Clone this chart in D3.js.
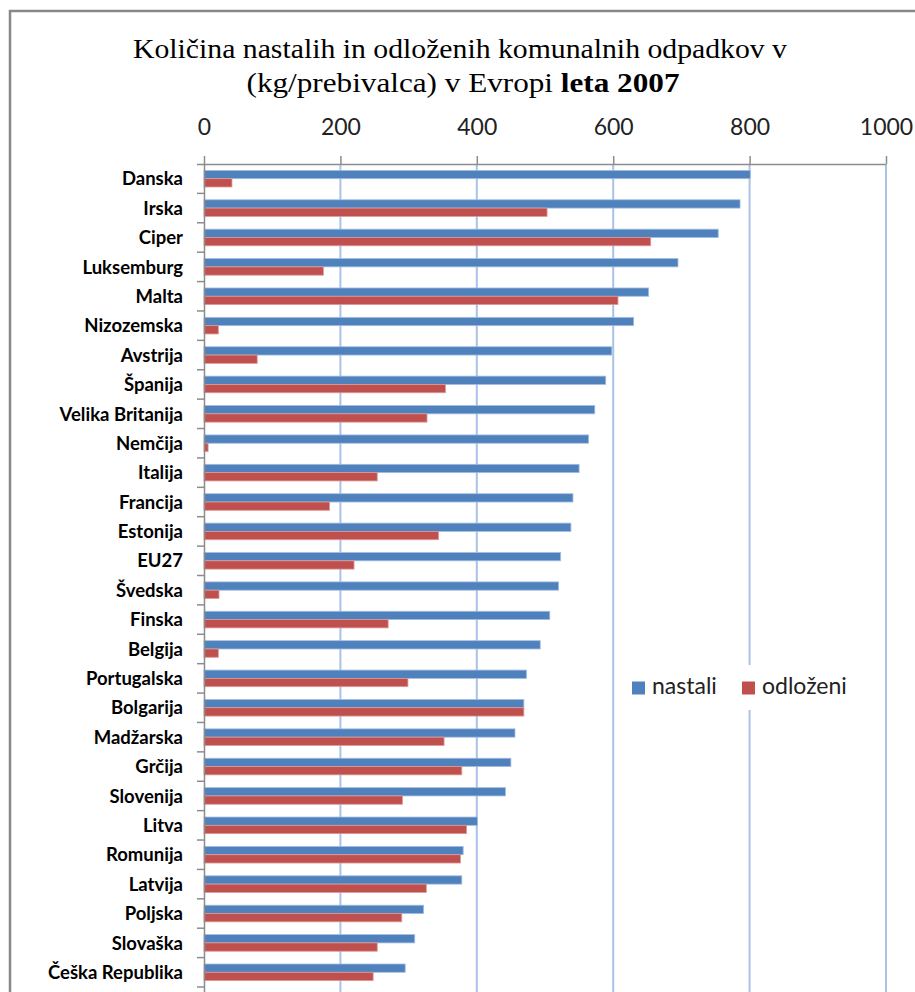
<!DOCTYPE html>
<html lang="sl">
<head>
  <meta charset="utf-8">
  <title>Komunalni odpadki v Evropi 2007</title>
  <script src="https://d3js.org/d3.v7.min.js"></script>
  <style>
    body { margin: 0; background: #fff; }
    .grid line { stroke: #a9c2ea; stroke-width: 2px; }
    .axis path, .axis line { stroke: #8c8c8c; stroke-width: 1.5px; }
    .x-axis text { font-family: Lato, "Open Sans", sans-serif; font-size: 23px; fill: #222; }
    .y-axis text { font-family: Lato, "Open Sans", sans-serif; font-weight: bold; font-size: 18.5px; fill: #000; }
    .legend text { font-family: Lato, "Open Sans", sans-serif; font-size: 23px; fill: #222; }
  </style>
</head>
<body>
  <svg width="915" height="992"></svg>
  <script>
    // data (kg per inhabitant)
    var countries = ["Danska", "Irska", "Ciper", "Luksemburg", "Malta", "Nizozemska", "Avstrija",
      "Španija", "Velika Britanija", "Nemčija", "Italija", "Francija", "Estonija", "EU27",
      "Švedska", "Finska", "Belgija", "Portugalska", "Bolgarija", "Madžarska", "Grčija",
      "Slovenija", "Litva", "Romunija", "Latvija", "Poljska", "Slovaška", "Češka Republika"];
    var nastali = [801, 786, 754, 695, 652, 630, 598, 589, 573, 564, 550, 541, 538, 523,
      520, 507, 493, 473, 469, 456, 450, 442, 401, 380, 378, 322, 309, 295];
    var odlozeni = [41, 503, 655, 175, 607, 21, 78, 354, 327, 6, 254, 184, 344, 220,
      22, 270, 21, 299, 469, 352, 378, 291, 385, 376, 326, 290, 254, 248];
    var xTicks = [0, 200, 400, 600, 800, 1000];
    var seriesNames = ["nastali", "odloženi"];
    var seriesColors = ["#4f81bd", "#c0504d"];
    var seriesStroke = ["#a4bde0", "#dc9997"];

    var svg = d3.select("svg");
    var plotLeft = 204, plotRight = 886, plotTop = 164, plotBottom = 987;

    var x = d3.scaleLinear().domain([0, 1000]).range([plotLeft, plotRight]);
    var y = d3.scaleBand().domain(countries).range([plotTop, plotBottom]);
    var ySub = d3.scaleBand().domain(seriesNames).range([0, y.bandwidth()]).paddingOuter(0.77);

    var rows = countries.map(function (c, i) {
      return { name: c, values: [nastali[i], odlozeni[i]] };
    });

    // chart frame
    svg.append("rect")
      .attr("x", 10).attr("y", 11)
      .attr("width", 1000).attr("height", 1000)
      .attr("fill", "#fff")
      .attr("stroke", "#888").attr("stroke-width", 2.5);

    // title
    var title = svg.append("g")
      .attr("font-family", "'Liberation Serif', 'Times New Roman', serif")
      .attr("font-size", 27)
      .attr("fill", "#000")
      .attr("text-anchor", "middle");
    title.append("text")
      .attr("x", 460).attr("y", 58)
      .attr("textLength", 654).attr("lengthAdjust", "spacingAndGlyphs")
      .text("Količina nastalih in odloženih komunalnih odpadkov v");
    var t2 = title.append("text")
      .attr("x", 463).attr("y", 92)
      .attr("textLength", 433).attr("lengthAdjust", "spacingAndGlyphs");
    t2.append("tspan").text("(kg/prebivalca) v Evropi ");
    t2.append("tspan").attr("font-weight", "bold").text("leta 2007");

    // vertical gridlines
    svg.append("g")
      .attr("class", "grid")
      .selectAll("line")
      .data(xTicks.filter(function (d) { return d > 0; }))
      .enter().append("line")
      .attr("x1", function (d) { return x(d); })
      .attr("x2", function (d) { return x(d); })
      .attr("y1", plotTop)
      .attr("y2", 992);

    // bars
    var groups = svg.append("g")
      .selectAll("g")
      .data(rows)
      .enter().append("g")
      .attr("transform", function (d) { return "translate(0," + y(d.name) + ")"; });

    groups.selectAll("rect")
      .data(function (d) { return d.values; })
      .enter().append("rect")
      .attr("x", x(0))
      .attr("y", function (d, i) { return ySub(seriesNames[i]); })
      .attr("width", function (d) { return x(d) - x(0); })
      .attr("height", ySub.bandwidth())
      .attr("fill", function (d, i) { return seriesColors[i]; })
      .attr("stroke", function (d, i) { return seriesStroke[i]; })
      .attr("stroke-width", 0.8);

    // top value axis
    var xAxis = svg.append("g")
      .attr("class", "axis x-axis")
      .attr("transform", "translate(0," + plotTop + ")")
      .call(d3.axisTop(x).tickValues(xTicks).tickFormat(d3.format("d"))
        .tickSize(8).tickPadding(21).tickSizeOuter(0));
    xAxis.select(".domain").attr("d", "M" + (plotLeft - 7) + ",0.5H" + plotRight);

    // category axis: line, ticks between categories, labels
    var yAxis = svg.append("g")
      .attr("class", "axis y-axis")
      .attr("transform", "translate(" + plotLeft + ",0)")
      .call(d3.axisLeft(y).tickSize(0).tickPadding(21));
    yAxis.select(".domain").attr("d", "M0.5," + plotTop + "V992");
    yAxis.selectAll(".tick text").attr("dy", "0.36em");

    var bounds = countries.map(function (c) { return y(c) + y.bandwidth(); });
    yAxis.selectAll("line.sep")
      .data(bounds)
      .enter().append("line")
      .attr("class", "sep")
      .attr("x1", -7).attr("x2", 0)
      .attr("y1", function (d) { return d; })
      .attr("y2", function (d) { return d; });

    // legend
    var legend = svg.append("g").attr("class", "legend");
    legend.append("rect")
      .attr("x", 622).attr("y", 665)
      .attr("width", 240).attr("height", 45)
      .attr("fill", "#fff");
    var legendX = [632, 742];
    seriesNames.forEach(function (name, i) {
      legend.append("rect")
        .attr("x", legendX[i]).attr("y", 681.5)
        .attr("width", 13).attr("height", 13)
        .attr("fill", seriesColors[i]);
      legend.append("text")
        .attr("x", legendX[i] + 20).attr("y", 694)
        .text(name);
    });
  </script>
</body>
</html>
